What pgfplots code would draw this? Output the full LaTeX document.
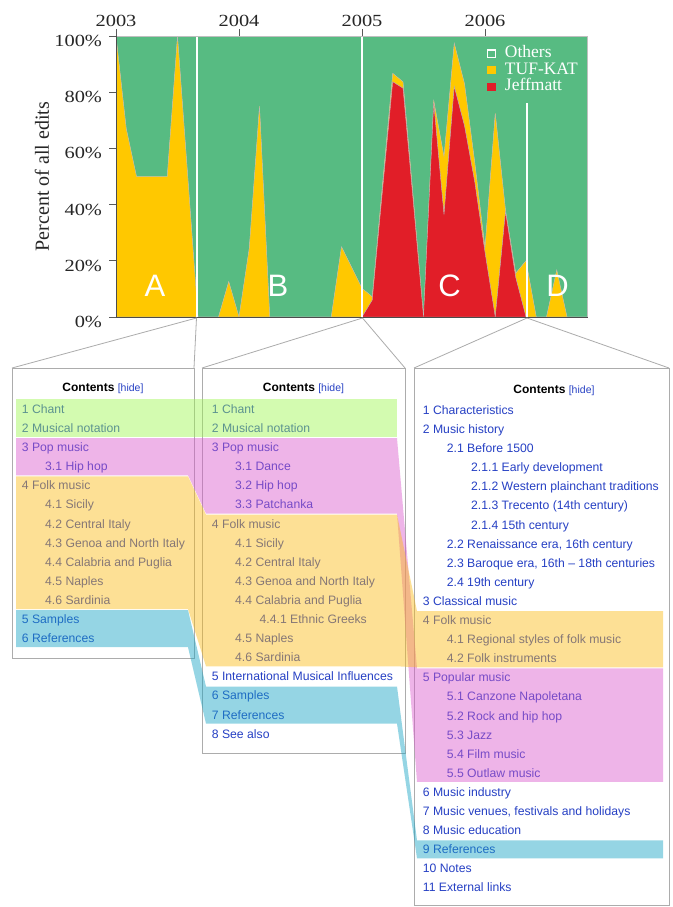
\documentclass[border=0pt]{standalone}
\usepackage{fontspec}
\usepackage{pgfplots}
\usepackage{pgfplotstable}
\pgfplotsset{compat=1.18}
\setmainfont{Liberation Sans}
\newfontfamily\serif{Liberation Serif}
\newfontfamily\tickfont[FakeStretch=1.2]{Liberation Serif}

\definecolor{others}{RGB}{87,187,130}
\definecolor{tuf}{RGB}{255,200,0}
\definecolor{jeff}{RGB}{225,30,40}
\definecolor{link}{RGB}{38,64,196}
\definecolor{bandgreen}{RGB}{158,247,80}
\definecolor{bandpink}{RGB}{218,89,204}
\definecolor{bandfolk}{RGB}{251,187,22}
\definecolor{bandblue}{RGB}{22,164,196}
\definecolor{boxgray}{RGB}{172,172,172}

% share of edits per month (month 0 = Jan 2003)
\pgfplotstableread{
m  jeff  tuf   oth
0  0     100   0
1  0     67    33
2  0     50    50
3  0     50    50
4  0     50    50
5  0     50    50
6  0     100   0
7  0     50    50
8  0     0     100
9  0     0     100
10 0     0     100
11 0     12.6  87.4
12 0     0     100
13 0     24.4  75.6
14 0     75    25
15 0     0     100
16 0     0     100
17 0     0     100
18 0     0     100
19 0     0     100
20 0     0     100
21 0     0     100
22 0     25    75
23 0     17.6  82.4
24 0     10.2  89.8
25 6     1.2   92.8
26 45    2     53
27 83.7  3     13.3
28 81.4  2.3   16.3
29 41    1.5   57.5
30 0     0     100
31 76    1     23
32 36.3  20.7  43
33 82    15.4  2.6
34 68    15    17
35 48    7     45
36 23    1.5   75.5
37 0     72.5  27.5
38 37.5  0.5   62
39 14    1.6   84.4
40 0     20    80
41 0     0     100
42 0     0     100
43 0     16.7  83.3
44 0     0     100
45 0     0     100
46 0     0     100
}\edits

\newcommand\tocfont{\fontsize{12.2}{12.2}\selectfont}
% \toc{x}{baseline of first row}{row}{text}
\newcommand\toc[4]{\node[anchor=base west, inner sep=0pt, text=link, font=\tocfont] at (#1,{#2+19.1*#3}) {#4};}

\begin{document}
\begin{tikzpicture}
\useasboundingbox (0pt,0pt) rectangle (672pt,-907pt);
\fill[white] (0pt,0pt) rectangle (672pt,-907pt);

\begin{axis}[
  at={(116pt,-317pt)}, anchor=south west,
  scale only axis, width=471.5pt, height=281pt,
  xmin=0, xmax=46, ymin=0, ymax=100,
  stack plots=y,
  axis line style={draw=none},
  xtick={0,12,24,36}, xticklabels={2003,2004,2005,2006},
  xtick pos=right, xticklabel pos=right,
  ytick={0,20,40,60,80,100},
  yticklabels={0\%,20\%,40\%,60\%,80\%,100\%},
  ytick pos=left,
  tick align=outside, major tick length=6.5pt,
  tick style={black!65, line width=0.7pt},
  tick label style={font=\tickfont\fontsize{17}{17}\selectfont, text=black!85},
  yticklabel style={xshift=-4pt, yshift=-5pt},
  xticklabel style={yshift=-1pt},
  ylabel={Percent of all edits},
  ylabel style={font=\serif\fontsize{20}{20}\selectfont, text=black!85,
    at={(axis description cs:-0.157,0.5)}, anchor=center},
  reverse legend,
  legend cell align=left,
  legend style={at={(0.787,0.967)}, anchor=north west, draw=none, fill=none,
    inner xsep=0pt, inner ysep=0pt,
    font=\serif\fontsize{17.5}{17.5}\selectfont, text=white,
    nodes={inner sep=0.5pt, text height=12pt, text depth=3.5pt}},
]
\addplot[fill=jeff, draw=gray!55, line width=0.3pt,
  legend image code/.code={\path[fill=jeff, draw=none] (0pt,-4.2pt) rectangle (8.4pt,4.2pt); \path (17pt,0pt);}]
  table[x=m, y=jeff] {\edits} \closedcycle;
\addplot[fill=tuf, draw=gray!55, line width=0.3pt,
  legend image code/.code={\path[fill=tuf, draw=none] (0pt,-4.2pt) rectangle (8.4pt,4.2pt); \path (17pt,0pt);}]
  table[x=m, y=tuf] {\edits} \closedcycle;
\addplot[fill=others, draw=gray!55, line width=0.3pt,
  legend image code/.code={\path[draw=white, fill=none, line width=1.1pt] (0.5pt,-3.7pt) rectangle (7.9pt,3.7pt); \path (17pt,0pt);}]
  table[x=m, y=oth] {\edits} \closedcycle;
\legend{Jeffmatt, TUF-KAT, Others}
\end{axis}

\begin{scope}[x=1pt, y=-1pt]
% period separators, frame and period letters over the chart
\draw[white, line width=2pt] (196.8,36) -- (196.8,317);
\draw[white, line width=2pt] (362,36) -- (362,317);
\draw[white, line width=2pt] (527,103) -- (527,317);
\draw[black!25, line width=0.8pt] (116,36) -- (587.5,36) -- (587.5,317);
\draw[black!70, line width=0.8pt] (116,36) -- (116,317) -- (587.5,317);
\foreach \lx/\lab in {155/A, 278/B, 449.5/C, 557.5/D}
  \node[text=white, font=\fontsize{31}{31}\selectfont] at (\lx,285.5) {\lab};

% magnifier outlines and boxes
\draw[boxgray, line width=0.8pt] (12,368) -- (196.5,318) -- (194,368);
\draw[boxgray, line width=0.8pt] (12,368) rectangle (194,658);
\draw[boxgray, line width=0.8pt] (202,368) -- (362.5,318) -- (405,368);
\draw[boxgray, line width=0.8pt] (202,368) rectangle (405,753);
\draw[boxgray, line width=0.8pt] (414,368) -- (527,318) -- (669,368);
\draw[boxgray, line width=0.8pt] (414,368) rectangle (669,905.5);

% titles
\foreach \cx/\cy in {103/391.6, 303.5/391.6, 554/393.5}
  \node[anchor=base, inner sep=0pt, font=\bfseries\fontsize{12}{12}\selectfont] at (\cx,\cy)
    {Contents \textcolor{link}{\mdseries\fontsize{10.5}{10.5}\selectfont[hide]}};

% box 1
\toc{21.7}{413.4}{0}{1 Chant}
\toc{21.7}{413.4}{1}{2 Musical notation}
\toc{21.7}{413.4}{2}{3 Pop music}
\toc{45}{413.4}{3}{3.1 Hip hop}
\toc{21.7}{413.4}{4}{4 Folk music}
\toc{45}{413.4}{5}{4.1 Sicily}
\toc{45}{413.4}{6}{4.2 Central Italy}
\toc{45}{413.4}{7}{4.3 Genoa and North Italy}
\toc{45}{413.4}{8}{4.4 Calabria and Puglia}
\toc{45}{413.4}{9}{4.5 Naples}
\toc{45}{413.4}{10}{4.6 Sardinia}
\toc{21.7}{413.4}{11}{5 Samples}
\toc{21.7}{413.4}{12}{6 References}

% box 2
\toc{211.7}{413.4}{0}{1 Chant}
\toc{211.7}{413.4}{1}{2 Musical notation}
\toc{211.7}{413.4}{2}{3 Pop music}
\toc{235}{413.4}{3}{3.1 Dance}
\toc{235}{413.4}{4}{3.2 Hip hop}
\toc{235}{413.4}{5}{3.3 Patchanka}
\toc{211.7}{413.4}{6}{4 Folk music}
\toc{235}{413.4}{7}{4.1 Sicily}
\toc{235}{413.4}{8}{4.2 Central Italy}
\toc{235}{413.4}{9}{4.3 Genoa and North Italy}
\toc{235}{413.4}{10}{4.4 Calabria and Puglia}
\toc{259.5}{413.4}{11}{4.4.1 Ethnic Greeks}
\toc{235}{413.4}{12}{4.5 Naples}
\toc{235}{413.4}{13}{4.6 Sardinia}
\toc{211.7}{413.4}{14}{5 International Musical Influences}
\toc{211.7}{413.4}{15}{6 Samples}
\toc{211.7}{413.4}{16}{7 References}
\toc{211.7}{413.4}{17}{8 See also}

% box 3
\toc{422.7}{414.4}{0}{1 Characteristics}
\toc{422.7}{414.4}{1}{2 Music history}
\toc{446.7}{414.4}{2}{2.1 Before 1500}
\toc{471}{414.4}{3}{2.1.1 Early development}
\toc{471}{414.4}{4}{2.1.2 Western plainchant traditions}
\toc{471}{414.4}{5}{2.1.3 Trecento (14th century)}
\toc{471}{414.4}{6}{2.1.4 15th century}
\toc{446.7}{414.4}{7}{2.2 Renaissance era, 16th century}
\toc{446.7}{414.4}{8}{2.3 Baroque era, 16th -- 18th centuries}
\toc{446.7}{414.4}{9}{2.4 19th century}
\toc{422.7}{414.4}{10}{3 Classical music}
\toc{422.7}{414.4}{11}{4 Folk music}
\toc{446.7}{414.4}{12}{4.1 Regional styles of folk music}
\toc{446.7}{414.4}{13}{4.2 Folk instruments}
\toc{422.7}{414.4}{14}{5 Popular music}
\toc{446.7}{414.4}{15}{5.1 Canzone Napoletana}
\toc{446.7}{414.4}{16}{5.2 Rock and hip hop}
\toc{446.7}{414.4}{17}{5.3 Jazz}
\toc{446.7}{414.4}{18}{5.4 Film music}
\toc{446.7}{414.4}{19}{5.5 Outlaw music}
\toc{422.7}{414.4}{20}{6 Music industry}
\toc{422.7}{414.4}{21}{7 Music venues, festivals and holidays}
\toc{422.7}{414.4}{22}{8 Music education}
\toc{422.7}{414.4}{23}{9 References}
\toc{422.7}{414.4}{24}{10 Notes}
\toc{422.7}{414.4}{25}{11 External links}

% section ribbons laid over the lists
\begin{scope}[fill opacity=0.45]
\fill[bandgreen] (16,398.8) -- (397,398.8) -- (397,437.1) -- (16,437.1) -- cycle;
\fill[bandpink] (16,438.2) -- (397,438.2) -- (417,668.4) -- (663,668.4) -- (663,781.9)
  -- (417,781.9) -- (397,513.5) -- (206,513.5) -- (188,475.3) -- (16,475.3) -- cycle;
\fill[bandfolk] (16,476.4) -- (188,476.4) -- (206,514.6) -- (397,514.6) -- (417,611.1)
  -- (663,611.1) -- (663,667.3) -- (417,667.3) -- (397,666.3) -- (206,666.3)
  -- (188,609) -- (16,609) -- cycle;
\fill[bandblue] (16,610.1) -- (188,610.1) -- (206,686.5) -- (397,686.5) -- (417,840.3)
  -- (663,840.3) -- (663,858.3) -- (417,858.3) -- (397,723.6) -- (206,723.6)
  -- (188,647.2) -- (16,647.2) -- cycle;
\end{scope}
\end{scope}
\end{tikzpicture}
\end{document}
